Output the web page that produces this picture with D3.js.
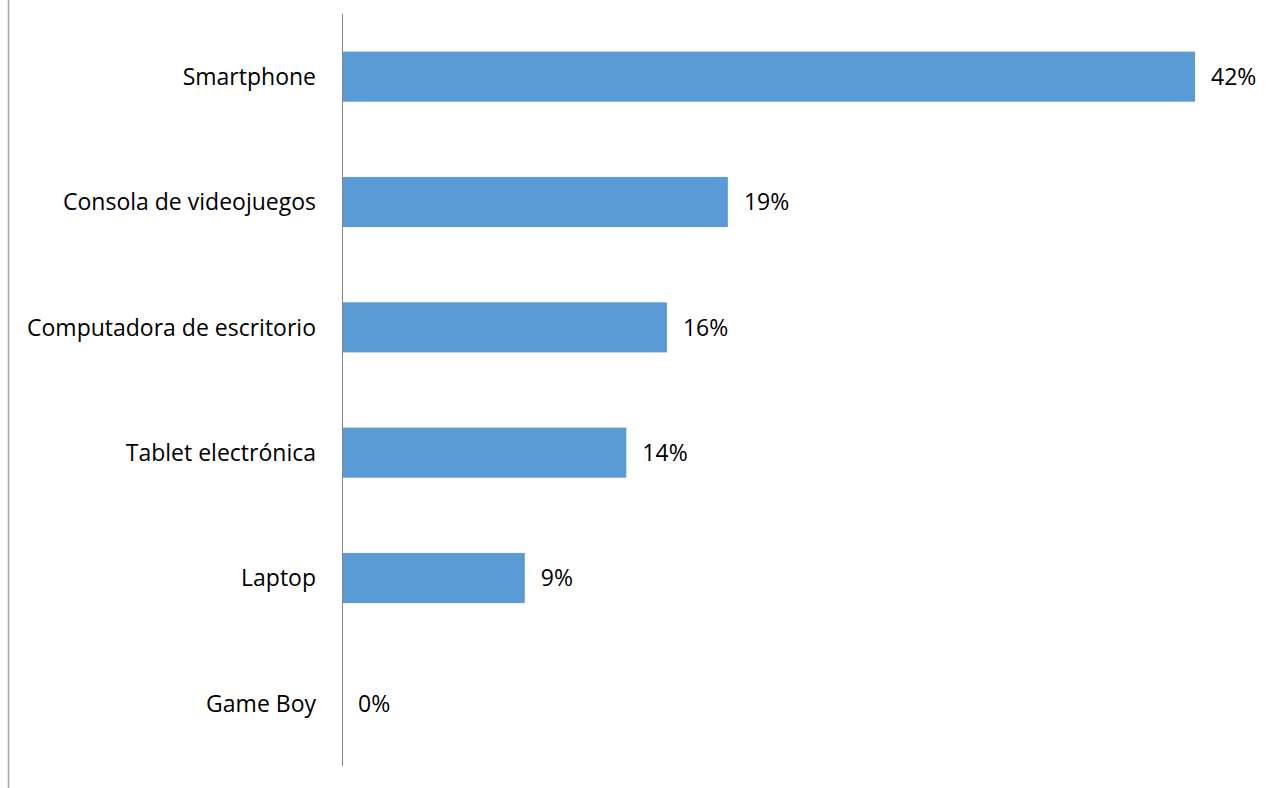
<!DOCTYPE html>
<html>
<head>
<meta charset="utf-8">
<script src="https://cdn.jsdelivr.net/npm/d3@7"></script>
<style>
  html, body { margin: 0; padding: 0; background: #fff; }
  svg { display: block; }
  text { font-family: "Open Sans", "Liberation Sans", sans-serif; fill: #000; }
</style>
</head>
<body>
<svg id="chart" width="1275" height="788"></svg>
<script>
// --- DATA ---
const categories = ["Smartphone", "Consola de videojuegos", "Computadora de escritorio", "Tablet electrónica", "Laptop", "Game Boy"];
const values = [42, 19, 16, 14, 9, 0];
const valueLabels = ["42%", "19%", "16%", "14%", "9%", "0%"];

// --- LAYOUT ---
const width = 1275, height = 788;
const plot = { left: 342, right: 1195, top: 14, bottom: 766 };
const barColor = "#5B9BD5";
const fontSize = 23;

const svg = d3.select("#chart");

// Outer frame line on the left
svg.append("line")
    .attr("x1", 8.5).attr("x2", 8.5)
    .attr("y1", 0).attr("y2", height)
    .attr("stroke", "#A6A6A6").attr("stroke-width", 1.5);

const x = d3.scaleLinear().domain([0, d3.max(values)]).range([plot.left, plot.right]);
const y = d3.scaleBand().domain(categories).range([plot.top, plot.bottom]).paddingInner(0.6).paddingOuter(0.3);

// Bars
svg.append("g").selectAll("rect")
    .data(categories)
    .join("rect")
    .attr("x", x(0))
    .attr("y", d => y(d))
    .attr("width", (d, i) => x(values[i]) - x(0))
    .attr("height", y.bandwidth())
    .attr("fill", barColor);

// Value labels
svg.append("g").selectAll("text")
    .data(categories)
    .join("text")
    .attr("x", (d, i) => x(values[i]) + 16)
    .attr("y", d => y(d) + y.bandwidth() / 2)
    .attr("dy", "0.36em")
    .style("font-size", fontSize + "px")
    .text((d, i) => valueLabels[i]);

// Category axis
const axis = svg.append("g")
    .attr("transform", `translate(${plot.left},0)`)
    .call(d3.axisLeft(y).tickSize(0).tickPadding(26));
axis.select(".domain")
    .attr("d", `M0.5,${plot.top}V${plot.bottom}`)
    .attr("stroke", "#868686").attr("stroke-width", 1);
axis.selectAll("text")
    .attr("dy", "0.36em")
    .style("font-family", "'Open Sans', 'Liberation Sans', sans-serif")
    .style("font-size", fontSize + "px")
    .attr("fill", "#000");
</script>
</body>
</html>
